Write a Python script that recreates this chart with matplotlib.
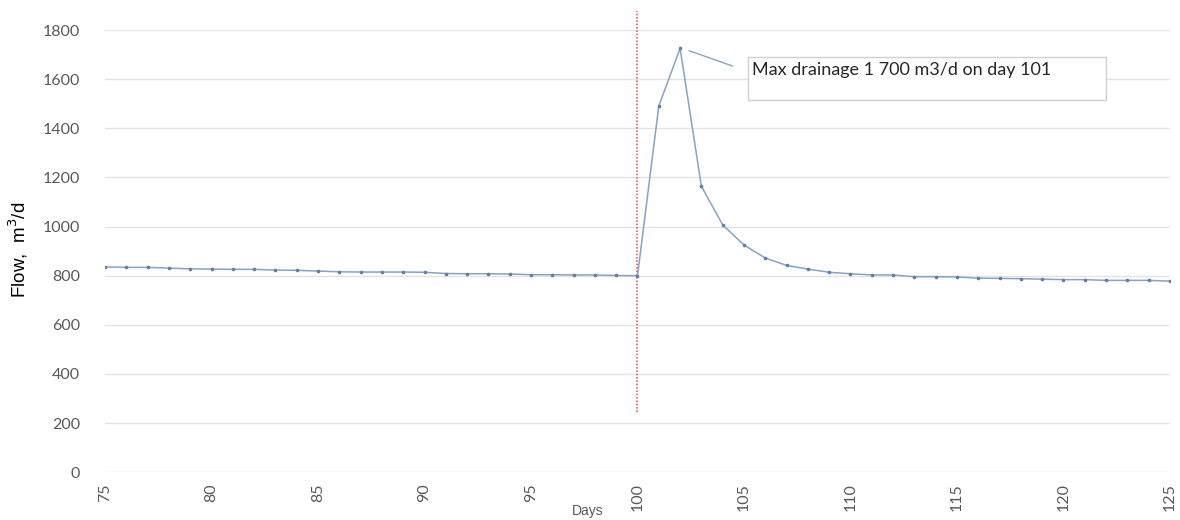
import matplotlib
matplotlib.use('Agg')
import matplotlib.pyplot as plt
import numpy as np

line_blue = '#86a3c6'
grid_grey = '#e3e3e3'
tick_grey = '#595959'
red = '#e06464'

days = np.arange(75, 126)
flow = [836, 834, 834, 831, 828, 827, 826, 826, 823, 822,
        819, 816, 815, 815, 815, 814, 809, 808, 808, 807,
        804, 804, 803, 803, 801, 800, 1491, 1726, 1164, 1007,
        925, 872, 842, 827, 814, 808, 803, 803, 796, 796,
        795, 790, 789, 788, 786, 784, 784, 781, 781, 781, 778]
event_day = 100
event_span = [243, 1880]
note = 'Max drainage 1 700 m3/d on day 101'

fig = plt.figure(figsize=(11.8, 5.2), dpi=100)
ax = fig.add_axes([0.089, 0.092, 0.9025, 0.85])

ax.plot(days, flow, color=line_blue, linewidth=1.1, marker='o',
        markersize=1.6, mec='#5f7fa6', mfc='#5f7fa6', zorder=3)

# red dotted event line, spills over top of plot area
ax.plot([event_day, event_day], event_span, color=red, linewidth=1.2,
        linestyle=(0, (1, 1)), clip_on=False, zorder=2)

ax.set_xlim(75, 125)
ax.set_ylim(0, 1800)
ax.set_yticks(np.arange(0, 1801, 200))
ax.set_xticks(np.arange(75, 126, 5))
ax.grid(axis='y', color=grid_grey, linewidth=1.0)
ax.set_axisbelow(True)
for s in ax.spines.values():
    s.set_visible(False)
ax.tick_params(axis='both', length=0, labelcolor=tick_grey, labelsize=11.5)
ax.tick_params(axis='y', pad=18)
ax.tick_params(axis='x', pad=8)
for lab in ax.get_xticklabels() + ax.get_yticklabels():
    lab.set_family('Lato')
for lab in ax.get_xticklabels():
    lab.set_rotation(90)
    lab.set_va('top')

# annotation box + leader line
ax.annotate('', xy=(102.3, 1720), xytext=(104.6, 1650),
            arrowprops=dict(arrowstyle='-', color=line_blue, linewidth=1.0))
fig.patches.append(plt.Rectangle((748 / 1180, 1 - 100 / 520), 358 / 1180, 43 / 520,
                                 transform=fig.transFigure, facecolor='white',
                                 edgecolor='#d0d0d0', linewidth=1.0))
fig.text(752 / 1180, 1 - 70 / 520, note, fontsize=13, family='Lato',
         color='#262626', va='center', ha='left')

fig.text(18 / 1180, 0.52, 'Flow,  m$^3$/d', rotation=90, fontsize=13.5,
         family='Liberation Sans', va='center', ha='center', color='black')
fig.text(588 / 1180, 1 - 511 / 520, 'Days', fontsize=10,
         family='Liberation Sans', va='center', ha='center', color=tick_grey)

plt.savefig('out.png', dpi=100)
